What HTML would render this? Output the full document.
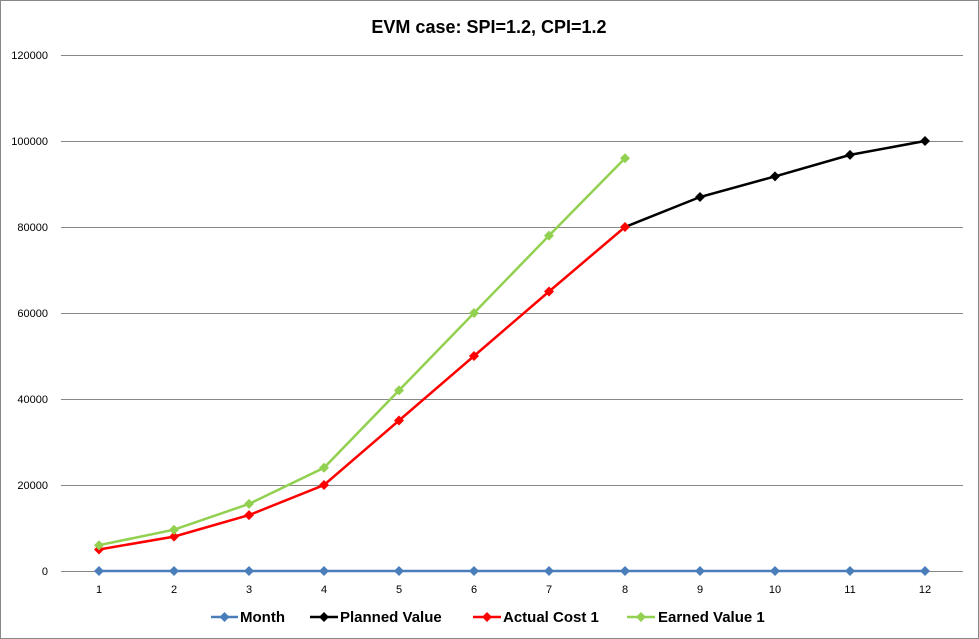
<!DOCTYPE html>
<html><head><style>body{margin:0;background:#fff}svg{display:block}</style></head><body>
<svg width="979" height="639" viewBox="0 0 979 639" xmlns="http://www.w3.org/2000/svg" font-family="Liberation Sans, Arial, sans-serif">
<defs>
<path id="d" d="M0,-5 L5,0 L0,5 L-5,0Z"/>
</defs>
<rect x="0.5" y="0.5" width="978" height="638" fill="#fff" stroke="#888"/>
<text x="489" y="33" text-anchor="middle" font-size="18" font-weight="bold">EVM case: SPI=1.2, CPI=1.2</text>
<g stroke="#888" stroke-width="1">
<line x1="61" x2="963" y1="55.5" y2="55.5"/>
<line x1="61" x2="963" y1="141.5" y2="141.5"/>
<line x1="61" x2="963" y1="227.5" y2="227.5"/>
<line x1="61" x2="963" y1="313.5" y2="313.5"/>
<line x1="61" x2="963" y1="399.5" y2="399.5"/>
<line x1="61" x2="963" y1="485.5" y2="485.5"/>
<line x1="61" x2="963" y1="571.5" y2="571.5"/>
</g>
<g font-size="11" text-anchor="end">
<text x="48" y="59">120000</text><text x="48" y="145">100000</text><text x="48" y="231">80000</text>
<text x="48" y="317">60000</text><text x="48" y="403">40000</text><text x="48" y="489">20000</text><text x="48" y="575">0</text>
</g>
<g font-size="11" text-anchor="middle">
<text x="99" y="593">1</text><text x="174" y="593">2</text><text x="249" y="593">3</text><text x="324" y="593">4</text>
<text x="399" y="593">5</text><text x="474" y="593">6</text><text x="549" y="593">7</text><text x="625" y="593">8</text>
<text x="700" y="593">9</text><text x="775" y="593">10</text><text x="850" y="593">11</text><text x="925" y="593">12</text>
</g>
<polyline fill="none" stroke="#4a7ebb" stroke-width="2.5" points="99,571 925,571"/>
<g fill="#4a7ebb">
<use href="#d" x="99" y="571"/><use href="#d" x="174" y="571"/><use href="#d" x="249" y="571"/><use href="#d" x="324" y="571"/>
<use href="#d" x="399" y="571"/><use href="#d" x="474" y="571"/><use href="#d" x="549" y="571"/><use href="#d" x="625" y="571"/>
<use href="#d" x="700" y="571"/><use href="#d" x="775" y="571"/><use href="#d" x="850" y="571"/><use href="#d" x="925" y="571"/>
</g>
<polyline fill="none" stroke="#000" stroke-width="2.5" points="625,227 700,197 775,176.4 850,154.9 925,141"/>
<g fill="#000">
<use href="#d" x="700" y="197"/><use href="#d" x="775" y="176.4"/><use href="#d" x="850" y="154.9"/><use href="#d" x="925" y="141"/>
</g>
<polyline fill="none" stroke="#f00" stroke-width="2.5" points="99,549.5 174,536.6 249,515.1 324,485 399,420.5 474,356 549,291.5 625,227"/>
<g fill="#f00">
<use href="#d" x="99" y="549.5"/><use href="#d" x="174" y="536.6"/><use href="#d" x="249" y="515.1"/><use href="#d" x="324" y="485"/>
<use href="#d" x="399" y="420.5"/><use href="#d" x="474" y="356"/><use href="#d" x="549" y="291.5"/><use href="#d" x="625" y="227"/>
</g>
<polyline fill="none" stroke="#92d050" stroke-width="2.5" points="99,545.2 174,529.7 249,503.9 324,467.8 399,390.4 474,313 549,235.6 625,158.2"/>
<g fill="#92d050">
<use href="#d" x="99" y="545.2"/><use href="#d" x="174" y="529.7"/><use href="#d" x="249" y="503.9"/><use href="#d" x="324" y="467.8"/>
<use href="#d" x="399" y="390.4"/><use href="#d" x="474" y="313"/><use href="#d" x="549" y="235.6"/><use href="#d" x="625" y="158.2"/>
</g>
<g font-size="15" font-weight="bold">
<line x1="211" x2="238" y1="617" y2="617" stroke="#4a7ebb" stroke-width="2.5"/><use href="#d" x="224.5" y="617" fill="#4a7ebb"/>
<text x="240" y="622">Month</text>
<line x1="310" x2="338" y1="617" y2="617" stroke="#000" stroke-width="2.5"/><use href="#d" x="324" y="617" fill="#000"/>
<text x="340" y="622">Planned Value</text>
<line x1="473" x2="501" y1="617" y2="617" stroke="#f00" stroke-width="2.5"/><use href="#d" x="487" y="617" fill="#f00"/>
<text x="503" y="622">Actual Cost 1</text>
<line x1="627" x2="655" y1="617" y2="617" stroke="#92d050" stroke-width="2.5"/><use href="#d" x="641" y="617" fill="#92d050"/>
<text x="658" y="622">Earned Value 1</text>
</g>
</svg>
</body></html>
